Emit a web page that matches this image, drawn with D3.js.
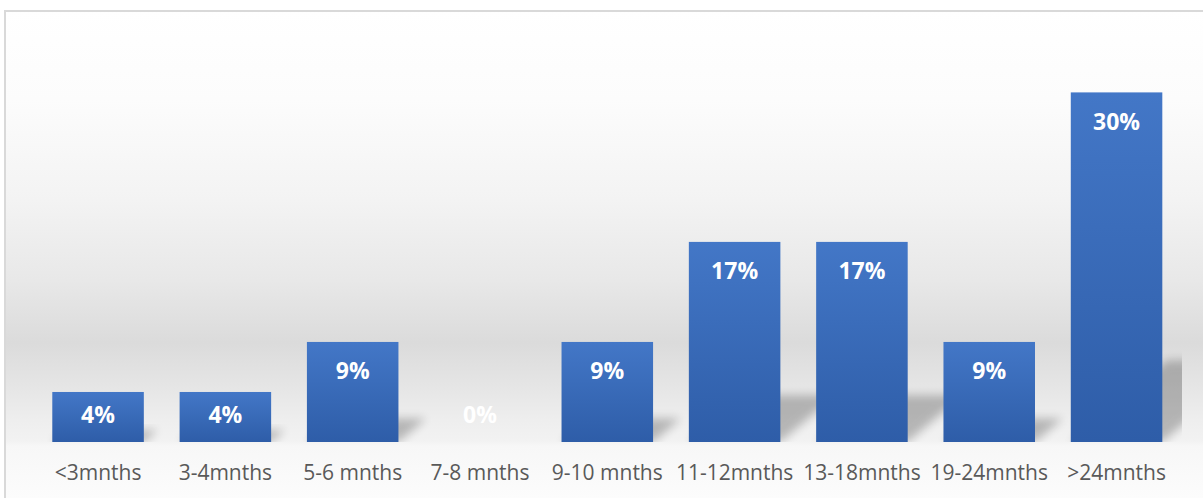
<!DOCTYPE html>
<html>
<head>
<meta charset="utf-8">
<script src="https://cdn.jsdelivr.net/npm/d3@7/dist/d3.min.js"></script>
<style>
  html, body { margin: 0; padding: 0; background: #ffffff; }
  svg { display: block; }
</style>
</head>
<body>
<svg id="chart" width="1203" height="498"></svg>
<script>
// Share of cases by duration bucket
const categories = ["<3mnths", "3-4mnths", "5-6 mnths", "7-8 mnths", "9-10 mnths",
                    "11-12mnths", "13-18mnths", "19-24mnths", ">24mnths"];
const shares = [0.0435, 0.0435, 0.087, 0, 0.087, 0.174, 0.174, 0.087, 0.304];
const yDomain = [0, 0.35];

const W = 1203, H = 498;
const plot = { left: 34.4, right: 1180.2, top: 39.5, bottom: 442 };

const svg = d3.select("#chart");
const defs = svg.append("defs");

// Backdrop gradient of the chart area (light top, darker band behind bars, light floor)
const bg = defs.append("linearGradient")
  .attr("id", "bgGrad").attr("gradientUnits", "userSpaceOnUse")
  .attr("x1", 0).attr("y1", 10).attr("x2", 0).attr("y2", 498);
[[10, "#ffffff"], [100, "#fcfcfc"], [200, "#f3f3f3"], [280, "#e8e8e8"],
 [343, "#dbdbdb"], [385, "#e5e5e5"], [420, "#eeeeee"], [441, "#f2f2f2"],
 [446, "#f7f7f7"], [498, "#fcfcfc"]].forEach(([y, c]) => {
  bg.append("stop").attr("offset", (y - 10) / 488).attr("stop-color", c);
});

// Bar fill gradient
const barGrad = defs.append("linearGradient")
  .attr("id", "barGrad").attr("x1", 0).attr("y1", 0).attr("x2", 0).attr("y2", 1);
barGrad.append("stop").attr("offset", 0).attr("stop-color", "#4377c7");
barGrad.append("stop").attr("offset", 1).attr("stop-color", "#2e5da8");

// Soft blur for the cast shadows
defs.append("filter").attr("id", "shadowBlur")
  .attr("x", "-50%").attr("y", "-50%").attr("width", "200%").attr("height", "200%")
  .append("feGaussianBlur").attr("stdDeviation", 5);

defs.append("clipPath").attr("id", "plotClip")
  .append("rect").attr("x", 0).attr("y", 0).attr("width", 1182).attr("height", plot.bottom);

// Chart area
svg.append("rect")
  .attr("x", 5).attr("y", 11).attr("width", W + 20).attr("height", H + 20)
  .attr("fill", "url(#bgGrad)")
  .attr("stroke", "#d9d9d9").attr("stroke-width", 2);

const x = d3.scaleBand()
  .domain(categories)
  .range([plot.left, plot.right])
  .paddingInner(0.281)
  .paddingOuter(0.1405);

const y = d3.scaleLinear().domain(yDomain).range([plot.bottom, plot.top]);

const data = categories.map((c, i) => ({ cat: c, v: shares[i] }));

// Perspective shadows cast up and to the right of each bar
const shadowG = svg.append("g").attr("clip-path", "url(#plotClip)");
shadowG.selectAll("path")
  .data(data.filter(d => d.v > 0))
  .join("path")
  .attr("d", d => {
    const x0 = x(d.cat), x1 = x0 + x.bandwidth();
    const h = y(0) - y(d.v);
    const rise = h * 0.234, shift = h * 0.275;
    return `M${x0},${y(0)}L${x1},${y(0)}L${x1 + shift},${y(0) - rise}L${x0 + shift},${y(0) - rise}Z`;
  })
  .attr("fill", "#000")
  .attr("opacity", 0.24)
  .attr("filter", "url(#shadowBlur)");

// Bars
svg.append("g").selectAll("rect")
  .data(data)
  .join("rect")
  .attr("x", d => x(d.cat))
  .attr("y", d => y(d.v))
  .attr("width", x.bandwidth())
  .attr("height", d => y(0) - y(d.v))
  .attr("fill", "url(#barGrad)");

// Value labels inside the bar ends
const fmt = d3.format(".0%");
svg.append("g").selectAll("text")
  .data(data)
  .join("text")
  .attr("x", d => x(d.cat) + x.bandwidth() / 2)
  .attr("y", d => Math.min(y(d.v) + 37.5, y(0) - 18.7))
  .attr("text-anchor", "middle")
  .attr("font-family", "'Open Sans', sans-serif")
  .attr("font-weight", 700)
  .attr("font-size", 23)
  .attr("fill", "#ffffff")
  .text(d => fmt(d.v));

// Category axis labels
const xAxis = d3.axisBottom(x).tickSize(0).tickPadding(0);
const axisG = svg.append("g")
  .attr("transform", `translate(0,${plot.bottom})`)
  .call(xAxis);
axisG.select(".domain").remove();
axisG.selectAll("text")
  .attr("dy", null)
  .attr("y", 38)
  .attr("font-family", "'Open Sans', sans-serif")
  .attr("font-size", 21)
  .attr("fill", "#595959");
</script>
</body>
</html>
